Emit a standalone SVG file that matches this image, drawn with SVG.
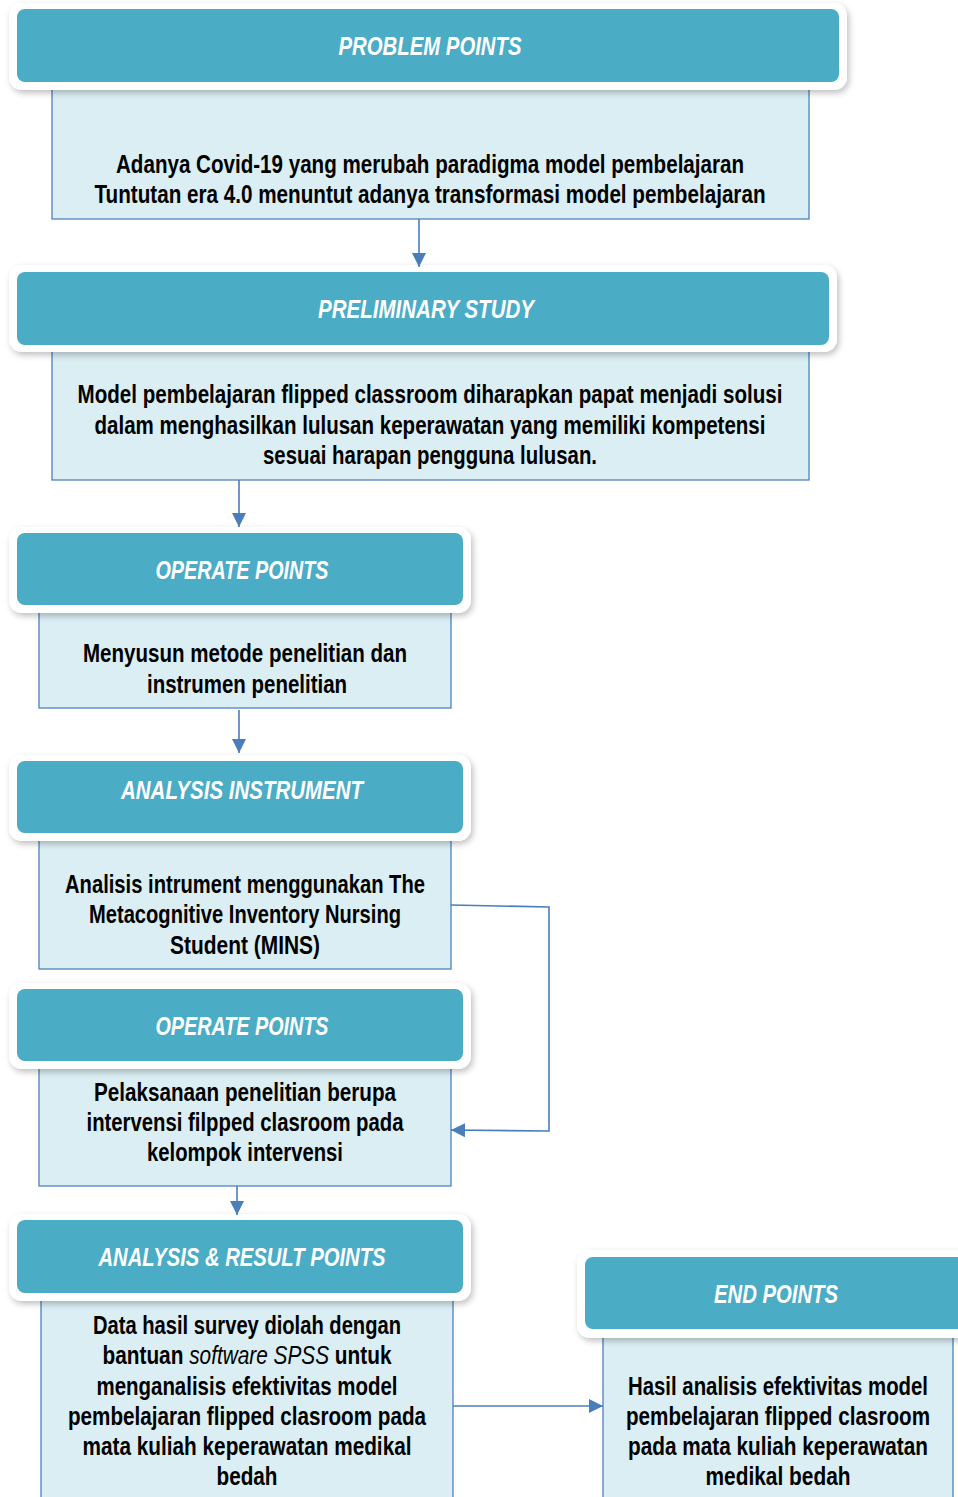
<svg xmlns="http://www.w3.org/2000/svg" width="958" height="1497" viewBox="0 0 958 1497">
<defs>
<filter id="sh" x="-5%" y="-20%" width="110%" height="150%">
<feDropShadow dx="2" dy="3" stdDeviation="3" flood-color="#000" flood-opacity="0.25"/>
</filter>
<marker id="ahv" markerWidth="16" markerHeight="16" refX="14" refY="8" orient="auto" markerUnits="userSpaceOnUse">
<path d="M0,1 L14,8 L0,15 Z" fill="#4A7EBB"/>
</marker>
</defs>
<style>
.outer{fill:#fff;filter:url(#sh)}
.head{fill:#4BACC6}
.body{fill:#DAEEF3;stroke:#4F81BD;stroke-width:1.3}
.ht{font-family:"Liberation Sans",Arial,sans-serif;font-weight:bold;font-style:italic;font-size:20px;fill:#fff;text-anchor:middle}
.bt{font-family:"Liberation Sans",Arial,sans-serif;font-weight:bold;font-size:20px;fill:#000;text-anchor:middle}
.it{font-style:italic;font-weight:normal}
.con{fill:none;stroke:#4A7EBB;stroke-width:1.6}
</style>
<rect width="958" height="1497" fill="#fff"/>

<g id="problem">
<rect class="body" x="52" y="88" width="757" height="131"/>
<rect class="outer" x="9" y="3" width="838" height="87" rx="13"/>
<rect class="head" x="17" y="9" width="822" height="73" rx="8"/>
<text class="ht" transform="translate(430,55) scale(1,1.25)" textLength="183" lengthAdjust="spacingAndGlyphs">PROBLEM POINTS</text>
<text class="bt" transform="translate(430,173) scale(1,1.25)" textLength="628" lengthAdjust="spacingAndGlyphs">Adanya Covid-19 yang merubah paradigma model pembelajaran</text>
<text class="bt" transform="translate(430,203) scale(1,1.25)" textLength="671" lengthAdjust="spacingAndGlyphs">Tuntutan era 4.0 menuntut adanya transformasi model pembelajaran</text>
</g>

<g id="preliminary">
<rect class="body" x="52" y="350" width="757" height="130"/>
<rect class="outer" x="9" y="265" width="828" height="87" rx="13"/>
<rect class="head" x="17" y="272" width="812" height="73" rx="8"/>
<text class="ht" transform="translate(426,318) scale(1,1.25)" textLength="216" lengthAdjust="spacingAndGlyphs">PRELIMINARY STUDY</text>
<text class="bt" transform="translate(430,403) scale(1,1.25)" textLength="705" lengthAdjust="spacingAndGlyphs">Model pembelajaran flipped classroom diharapkan papat menjadi solusi</text>
<text class="bt" transform="translate(430,434) scale(1,1.25)" textLength="671" lengthAdjust="spacingAndGlyphs">dalam menghasilkan lulusan keperawatan yang memiliki kompetensi</text>
<text class="bt" transform="translate(430,464) scale(1,1.25)" textLength="334" lengthAdjust="spacingAndGlyphs">sesuai harapan pengguna lulusan.</text>
</g>

<g id="operate1">
<rect class="body" x="39" y="611" width="412" height="97"/>
<rect class="outer" x="9" y="527" width="462" height="86" rx="13"/>
<rect class="head" x="17" y="533" width="446" height="72" rx="8"/>
<text class="ht" transform="translate(242,579) scale(1,1.25)" textLength="173" lengthAdjust="spacingAndGlyphs">OPERATE POINTS</text>
<text class="bt" transform="translate(245,662) scale(1,1.25)" textLength="324" lengthAdjust="spacingAndGlyphs">Menyusun metode penelitian dan</text>
<text class="bt" transform="translate(247,693) scale(1,1.25)" textLength="200" lengthAdjust="spacingAndGlyphs">instrumen penelitian</text>
</g>

<g id="analysis">
<rect class="body" x="39" y="839" width="412" height="130"/>
<rect class="outer" x="9" y="755" width="462" height="86" rx="13"/>
<rect class="head" x="17" y="761" width="446" height="72" rx="8"/>
<text class="ht" transform="translate(242,799) scale(1,1.25)" textLength="242" lengthAdjust="spacingAndGlyphs">ANALYSIS INSTRUMENT</text>
<text class="bt" transform="translate(245,893) scale(1,1.25)" textLength="360" lengthAdjust="spacingAndGlyphs">Analisis intrument menggunakan The</text>
<text class="bt" transform="translate(245,923) scale(1,1.25)" textLength="312" lengthAdjust="spacingAndGlyphs">Metacognitive Inventory Nursing</text>
<text class="bt" transform="translate(245,954) scale(1,1.25)" textLength="150" lengthAdjust="spacingAndGlyphs">Student (MINS)</text>
</g>

<g id="operate2">
<rect class="body" x="39" y="1064" width="412" height="122"/>
<rect class="outer" x="9" y="983" width="462" height="86" rx="13"/>
<rect class="head" x="17" y="989" width="446" height="72" rx="8"/>
<text class="ht" transform="translate(242,1035) scale(1,1.25)" textLength="173" lengthAdjust="spacingAndGlyphs">OPERATE POINTS</text>
<text class="bt" transform="translate(245,1101) scale(1,1.25)" textLength="302" lengthAdjust="spacingAndGlyphs">Pelaksanaan penelitian berupa</text>
<text class="bt" transform="translate(245,1131) scale(1,1.25)" textLength="317" lengthAdjust="spacingAndGlyphs">intervensi filpped clasroom pada</text>
<text class="bt" transform="translate(245,1161) scale(1,1.25)" textLength="196" lengthAdjust="spacingAndGlyphs">kelompok intervensi</text>
</g>

<g id="result">
<rect class="body" x="41" y="1299" width="412" height="210"/>
<rect class="outer" x="9" y="1214" width="462" height="87" rx="13"/>
<rect class="head" x="17" y="1220" width="446" height="73" rx="8"/>
<text class="ht" transform="translate(242,1266) scale(1,1.25)" textLength="287" lengthAdjust="spacingAndGlyphs">ANALYSIS &amp; RESULT POINTS</text>
<text class="bt" transform="translate(247,1334) scale(1,1.25)" textLength="308" lengthAdjust="spacingAndGlyphs">Data hasil survey diolah dengan</text>
<text class="bt" transform="translate(247,1364) scale(1,1.25)" textLength="289" lengthAdjust="spacingAndGlyphs">bantuan <tspan class="it">software SPSS</tspan> untuk</text>
<text class="bt" transform="translate(247,1395) scale(1,1.25)" textLength="301" lengthAdjust="spacingAndGlyphs">menganalisis efektivitas model</text>
<text class="bt" transform="translate(247,1425) scale(1,1.25)" textLength="358" lengthAdjust="spacingAndGlyphs">pembelajaran flipped clasroom pada</text>
<text class="bt" transform="translate(247,1455) scale(1,1.25)" textLength="329" lengthAdjust="spacingAndGlyphs">mata kuliah keperawatan medikal</text>
<text class="bt" transform="translate(247,1485) scale(1,1.25)" textLength="61" lengthAdjust="spacingAndGlyphs">bedah</text>
</g>

<g id="end">
<rect class="body" x="603" y="1336" width="350" height="175"/>
<rect class="outer" x="577" y="1250" width="400" height="88" rx="13"/>
<rect class="head" x="585" y="1257" width="390" height="72" rx="8"/>
<text class="ht" transform="translate(776,1303) scale(1,1.25)" textLength="124" lengthAdjust="spacingAndGlyphs">END POINTS</text>
<text class="bt" transform="translate(778,1395) scale(1,1.25)" textLength="300" lengthAdjust="spacingAndGlyphs">Hasil analisis efektivitas model</text>
<text class="bt" transform="translate(778,1425) scale(1,1.25)" textLength="304" lengthAdjust="spacingAndGlyphs">pembelajaran flipped clasroom</text>
<text class="bt" transform="translate(778,1455) scale(1,1.25)" textLength="300" lengthAdjust="spacingAndGlyphs">pada mata kuliah keperawatan</text>
<text class="bt" transform="translate(778,1485) scale(1,1.25)" textLength="145" lengthAdjust="spacingAndGlyphs">medikal bedah</text>
</g>

<g id="connectors">
<line class="con" x1="419" y1="219" x2="419" y2="267" marker-end="url(#ahv)"/>
<line class="con" x1="239" y1="480" x2="239" y2="527" marker-end="url(#ahv)"/>
<line class="con" x1="239" y1="710" x2="239" y2="753" marker-end="url(#ahv)"/>
<polyline class="con" points="451,905 549,907 549,1131 451,1130" marker-end="url(#ahv)"/>
<line class="con" x1="237" y1="1186" x2="237" y2="1215" marker-end="url(#ahv)"/>
<line class="con" x1="453" y1="1406" x2="603" y2="1406" marker-end="url(#ahv)"/>
</g>
</svg>
